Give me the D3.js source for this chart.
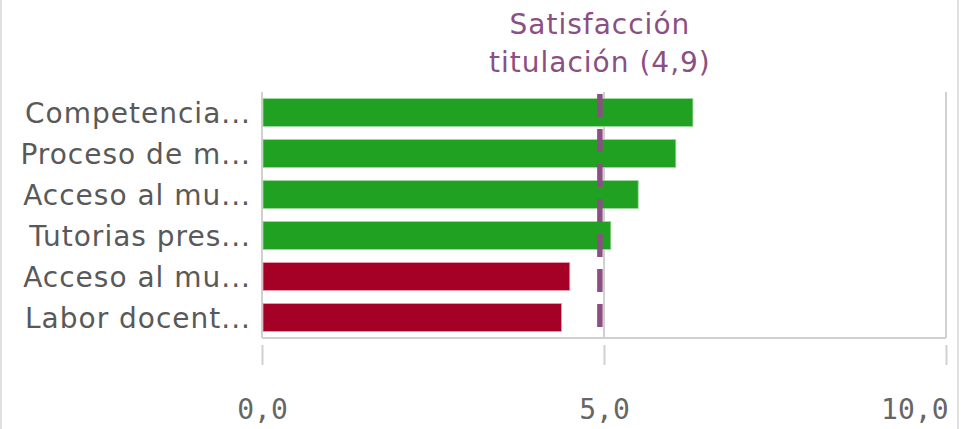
<!DOCTYPE html>
<html><head><meta charset="utf-8">
<script src="https://cdn.jsdelivr.net/npm/d3@7"></script>
<style>html,body{margin:0;padding:0;background:#fff;}svg{display:block;}</style>
</head><body>
<svg id="chart" width="965" height="429"></svg>
<script>
const categories = ["Competencia...", "Proceso de m...", "Acceso al mu...", "Tutorias pres...", "Acceso al mu...", "Labor docent..."];
const values = [6.3, 6.05, 5.5, 5.1, 4.5, 4.38];
const reference = 4.94;
const refLabel = ["Satisfacción", "titulación (4,9)"];
const xTicks = [0, 5, 10];

const svg = d3.select("#chart");
const W = 965, H = 429;
const pLeft = 262, pRight = 946, pTop = 92, pBottom = 338;

const x = d3.scaleLinear().domain([0, 10]).range([pLeft, pRight]);
const y = d3.scaleBand().domain(d3.range(categories.length)).range([pTop, pBottom]).paddingInner(0.32).paddingOuter(0.16);

// frame lines
svg.append("line").attr("x1", 1).attr("x2", 1).attr("y1", 0).attr("y2", H).attr("stroke", "#e0e0e0").attr("stroke-width", 2);
svg.append("line").attr("x1", 958).attr("x2", 958).attr("y1", 0).attr("y2", H).attr("stroke", "#e0e0e0").attr("stroke-width", 2);

// plot borders / grid
const gridC = "#d0d0d0";
svg.append("line").attr("x1", x(0)).attr("x2", x(0)).attr("y1", pTop).attr("y2", pBottom).attr("stroke", gridC).attr("stroke-width", 2);
svg.append("line").attr("x1", x(10)).attr("x2", x(10)).attr("y1", pTop).attr("y2", pBottom).attr("stroke", gridC).attr("stroke-width", 2);
svg.append("line").attr("x1", x(5)).attr("x2", x(5)).attr("y1", pTop).attr("y2", pBottom).attr("stroke", gridC).attr("stroke-width", 2);
svg.append("line").attr("x1", x(0)).attr("x2", x(10)).attr("y1", pBottom).attr("y2", pBottom).attr("stroke", gridC).attr("stroke-width", 2);

// bars
svg.selectAll("rect.bar").data(values).enter().append("rect")
  .attr("class", "bar")
  .attr("x", x(0) + 1)
  .attr("y", (d, i) => y(i))
  .attr("width", d => x(d) - x(0) - 1)
  .attr("height", y.bandwidth())
  .attr("fill", d => d >= reference ? "#21a121" : "#a50026")
  .attr("stroke", d => d >= reference ? "#9fd89f" : "#e8a0b0")
  .attr("stroke-width", 0.8);

// category labels
svg.selectAll("text.cat").data(categories).enter().append("text")
  .attr("class", "cat")
  .attr("x", 251)
  .attr("y", (d, i) => y(i) + y.bandwidth() / 2)
  .attr("dy", "0.36em")
  .attr("text-anchor", "end")
  .attr("font-family", "'DejaVu Sans', sans-serif")
  .attr("font-size", 28)
  .attr("letter-spacing", 1)
  .attr("fill", "#595959")
  .text(d => d);

// reference line
svg.append("line")
  .attr("x1", x(reference)).attr("x2", x(reference))
  .attr("y1", pTop + 2).attr("y2", y(categories.length - 1) + y.bandwidth() - 4)
  .attr("stroke", "#8b4f84").attr("stroke-width", 5.5)
  .attr("stroke-dasharray", "23,12");

svg.append("text")
  .attr("x", x(reference))
  .attr("text-anchor", "middle")
  .attr("font-family", "'DejaVu Sans', sans-serif")
  .attr("font-size", 28)
  .attr("letter-spacing", 1)
  .attr("fill", "#8b4f84")
  .selectAll("tspan").data(refLabel).enter().append("tspan")
  .attr("x", x(reference))
  .attr("y", (d, i) => 34 + i * 38)
  .text(d => d);

// x axis
const axis = d3.axisBottom(x).tickValues(xTicks).tickSize(20).tickFormat(d => d3.format(".1f")(d).replace(".", ","));
const g = svg.append("g").attr("transform", `translate(0,${pBottom + 7})`).call(axis);
g.select(".domain").remove();
g.selectAll(".tick line").attr("stroke", gridC).attr("stroke-width", 2);
g.selectAll(".tick text")
  .attr("y", 74)
  .attr("dy", 0)
  .attr("font-family", "'DejaVu Sans Mono', monospace")
  .attr("font-size", 28)
  .attr("fill", "#666")
  .attr("text-anchor", d => d === 10 ? "end" : "middle")
  .attr("dx", d => d === 10 ? 2 : 0);
</script>
</body></html>
